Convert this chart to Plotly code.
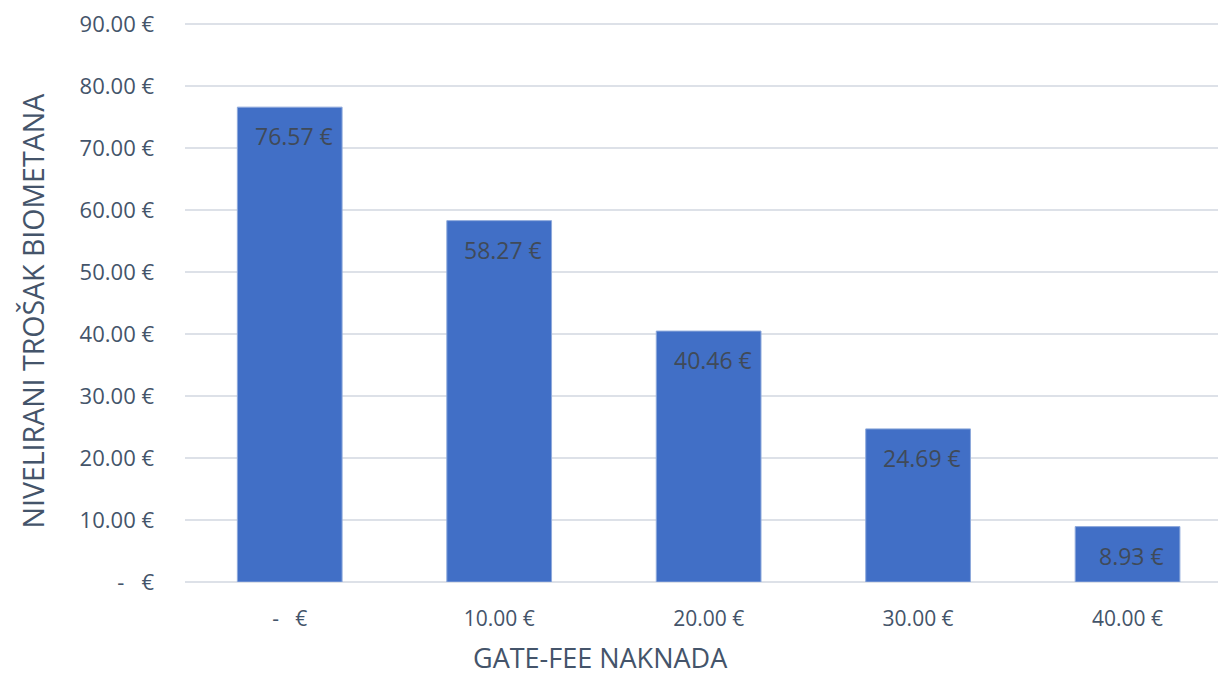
import plotly.graph_objects as go

categories = ["-\u00a0\u00a0\u00a0€", "10.00 €", "20.00 €", "30.00 €", "40.00 €"]
values = [76.57, 58.27, 40.46, 24.69, 8.93]
value_labels = ["76.57 €", "58.27 €", "40.46 €", "24.69 €", "8.93 €"]
y_tickvals = [0, 10, 20, 30, 40, 50, 60, 70, 80, 90]
y_ticktext = ["-\u00a0\u00a0\u00a0€", "10.00 €", "20.00 €", "30.00 €", "40.00 €",
              "50.00 €", "60.00 €", "70.00 €", "80.00 €", "90.00 €"]
x_title = "GATE-FEE NAKNADA"
y_title = "NIVELIRANI TROŠAK BIOMETANA"

FONT = "Open Sans"
TXT = "#44546A"

fig = go.Figure(go.Bar(
    x=categories, y=values,
    marker=dict(color="#416FC6", line=dict(color="#8EA9DB", width=1)),
    width=0.5, hoverinfo="x+y",
))

for c, v, t in zip(categories, values, value_labels):
    fig.add_annotation(x=c, y=v, text=t, showarrow=False, xshift=4, yshift=-29,
                       yanchor="middle", xanchor="center",
                       font=dict(family=FONT, size=23, color="#404A58"))

fig.update_layout(
    width=1218, height=671,
    margin=dict(l=177, r=0, t=11, b=97),
    plot_bgcolor="white", paper_bgcolor="white",
    showlegend=False,
    font=dict(family=FONT, color=TXT),
)
fig.update_xaxes(
    type="category", range=[-0.5, 4.47],
    showgrid=False, showline=False, zeroline=False,
    ticks="", tickfont=dict(family=FONT, size=21, color=TXT),
    ticklabelstandoff=22,
)
fig.update_yaxes(
    range=[0, 90.3], tickvals=y_tickvals, ticktext=y_ticktext,
    showgrid=True, gridcolor="#DDE1E8", gridwidth=2,
    zeroline=True, zerolinecolor="#DDE1E8", zerolinewidth=2,
    showline=False, ticks="",
    tickfont=dict(family=FONT, size=22, color=TXT),
    ticklabelstandoff=30, ticklabeloverflow="allow",
)
fig.add_annotation(text=x_title, xref="paper", yref="paper",
                   x=0.3996, y=-0.135, xanchor="center", yanchor="middle",
                   showarrow=False, font=dict(family=FONT, size=27, color=TXT))
fig.add_annotation(text=y_title, xref="paper", yref="paper",
                   x=-0.146, y=0.483, xanchor="center", yanchor="middle",
                   textangle=-90,
                   showarrow=False, font=dict(family=FONT, size=28.5, color=TXT))

fig.write_html("out.html")
